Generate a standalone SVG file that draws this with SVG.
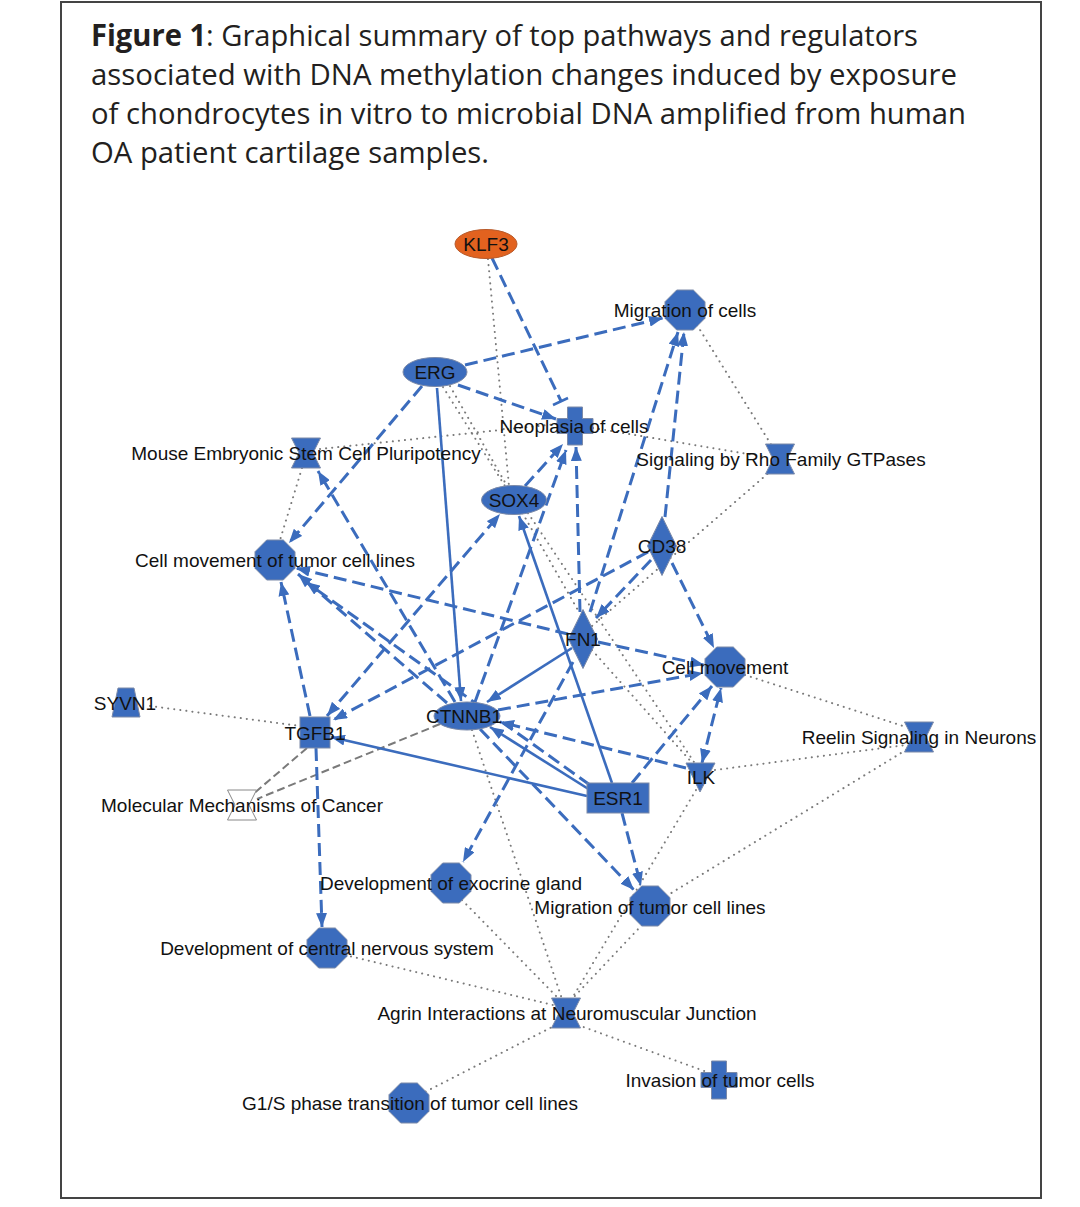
<svg xmlns="http://www.w3.org/2000/svg" xmlns:xlink="http://www.w3.org/1999/xlink" width="1080" height="1207" viewBox="0 0 1080 1207">
<style>
.title{font-family:"Open Sans","Liberation Sans",sans-serif;font-size:30px;fill:#231f20}
.lbl{font-family:"Liberation Sans",Arial,sans-serif;font-size:19px;fill:#111;text-anchor:middle}
.nd{fill:#3b6cbd;stroke:#7c8aa8;stroke-width:1}
.ed{fill:none;stroke:#3b6cbd;stroke-width:3;stroke-dasharray:13,6}
.es{fill:none;stroke:#3b6cbd;stroke-width:2.6}
.eg{fill:none;stroke:#7a7a7a;stroke-width:2;stroke-dasharray:8,4}
.dt{fill:none;stroke:#7a7a7a;stroke-width:2;stroke-dasharray:0.1,6;stroke-linecap:round}
</style>
<defs>
<marker id="arr" viewBox="0 0 14 11" refX="14" refY="5.5" markerWidth="14" markerHeight="11" markerUnits="userSpaceOnUse" orient="auto-start-reverse">
<path d="M0,0 L14,5.5 L0,11 Z" fill="#3b6cbd"/>
</marker>
<polygon id="oct" points="-8.3,-20 8.3,-20 20,-8.3 20,8.3 8.3,20 -8.3,20 -20,8.3 -20,-8.3"/>
<polygon id="hg" points="-14.5,-15 14.5,-15 7,0 14.5,15 -14.5,15 -7,0"/>
<path id="cross" d="M-7.5,-19 H7.5 V-7.5 H18 V7.5 H7.5 V19 H-7.5 V7.5 H-18 V-7.5 H-7.5 Z"/>
<polygon id="dia" points="0,-29.5 14.5,0 0,29.5 -14.5,0"/>
</defs>
<rect x="61" y="2" width="980" height="1196" fill="#fff" stroke="#444" stroke-width="2"/>
<g id="title">
<text class="title" x="91" y="46" textLength="827" lengthAdjust="spacingAndGlyphs"><tspan font-weight="bold">Figure 1</tspan>: Graphical summary of top pathways and regulators</text>
<text class="title" x="91" y="85" textLength="866" lengthAdjust="spacingAndGlyphs">associated with DNA methylation changes induced by exposure</text>
<text class="title" x="91" y="124" textLength="875" lengthAdjust="spacingAndGlyphs">of chondrocytes in vitro to microbial DNA amplified from human</text>
<text class="title" x="91" y="163" textLength="398" lengthAdjust="spacingAndGlyphs">OA patient cartilage samples.</text>
</g>
<g id="connectors">
<!-- dotted -->
<line class="dt" x1="488" y1="259" x2="509" y2="486"/>
<line class="dt" x1="443" y1="387" x2="505" y2="486"/>
<line class="dt" x1="450" y1="386" x2="579" y2="612"/>
<line class="dt" x1="320" y1="449" x2="557" y2="424"/>
<line class="dt" x1="302" y1="468" x2="280" y2="540"/>
<line class="dt" x1="593" y1="428" x2="766" y2="457"/>
<line class="dt" x1="697" y1="325" x2="772" y2="446"/>
<line class="dt" x1="772" y1="470" x2="592" y2="626"/>
<line class="dt" x1="528" y1="513" x2="696" y2="765"/>
<line class="dt" x1="592" y1="650" x2="694" y2="765"/>
<line class="dt" x1="745" y1="675" x2="906" y2="727"/>
<line class="dt" x1="715" y1="770" x2="906" y2="745"/>
<line class="dt" x1="906" y1="750" x2="668" y2="895"/>
<line class="dt" x1="696" y1="790" x2="571" y2="1000"/>
<line class="dt" x1="642" y1="925" x2="572" y2="999"/>
<line class="dt" x1="472" y1="730" x2="562" y2="999"/>
<line class="dt" x1="462" y1="900" x2="559" y2="999"/>
<line class="dt" x1="345" y1="955" x2="553" y2="1005"/>
<line class="dt" x1="556" y1="1025" x2="425" y2="1092"/>
<line class="dt" x1="578" y1="1025" x2="707" y2="1072"/>
<line class="dt" x1="150" y1="706" x2="300" y2="726"/>
<!-- gray dashed -->
<line class="eg" x1="307" y1="748" x2="252" y2="795"/>
<line class="eg" x1="440" y1="724" x2="257" y2="799"/>
<!-- blue solid -->
<line class="es" x1="437" y1="388" x2="461" y2="701" marker-end="url(#arr)"/>
<line class="es" x1="572" y1="648" x2="487" y2="702" marker-end="url(#arr)"/>
<line class="es" x1="590" y1="790" x2="490" y2="727" marker-end="url(#arr)"/>
<line class="es" x1="587" y1="796" x2="331" y2="737" marker-end="url(#arr)"/>
<line class="es" x1="612" y1="783" x2="519" y2="516" marker-end="url(#arr)"/>
<!-- blue dashed -->
<line class="ed" x1="465" y1="365" x2="663" y2="318" marker-end="url(#arr)"/>
<line class="ed" x1="458" y1="385" x2="556" y2="419" marker-end="url(#arr)"/>
<line class="ed" x1="492" y1="258" x2="561" y2="401"/>
<line x1="553" y1="405" x2="568" y2="398" stroke="#3b6cbd" stroke-width="2.5"/>
<line class="ed" x1="422" y1="386" x2="289" y2="543" marker-end="url(#arr)"/>
<line class="ed" x1="525" y1="486" x2="563" y2="444" marker-end="url(#arr)"/>
<line class="ed" x1="475" y1="702" x2="566" y2="450" marker-end="url(#arr)"/>
<line class="ed" x1="580" y1="612" x2="576" y2="447" marker-end="url(#arr)"/>
<line class="ed" x1="590" y1="612" x2="678" y2="332" marker-end="url(#arr)"/>
<line class="ed" x1="665" y1="517" x2="684" y2="332" marker-end="url(#arr)"/>
<line class="ed" x1="672" y1="563" x2="714" y2="648" marker-end="url(#arr)"/>
<line class="ed" x1="651" y1="560" x2="596" y2="618" marker-end="url(#arr)"/>
<line class="ed" x1="648" y1="552" x2="333" y2="720" marker-end="url(#arr)"/>
<line class="ed" x1="598" y1="642" x2="704" y2="665" marker-end="url(#arr)"/>
<line class="ed" x1="568" y1="634" x2="296" y2="568" marker-end="url(#arr)"/>
<line class="ed" x1="573" y1="662" x2="463" y2="862" marker-end="url(#arr)"/>
<line class="ed" x1="447" y1="703" x2="298" y2="574" marker-end="url(#arr)"/>
<line class="ed" x1="590" y1="785" x2="306" y2="582" marker-end="url(#arr)"/>
<line class="ed" x1="310" y1="716" x2="281" y2="582" marker-end="url(#arr)"/>
<line class="ed" x1="316" y1="748" x2="322" y2="927" marker-end="url(#arr)"/>
<line class="ed" x1="327" y1="716" x2="500" y2="514" marker-start="url(#arr)" marker-end="url(#arr)"/>
<line class="ed" x1="480" y1="729" x2="634" y2="890" marker-end="url(#arr)"/>
<line class="ed" x1="622" y1="813" x2="641" y2="886" marker-end="url(#arr)"/>
<line class="ed" x1="632" y1="783" x2="712" y2="686" marker-end="url(#arr)"/>
<line class="ed" x1="702" y1="763" x2="721" y2="688" marker-start="url(#arr)" marker-end="url(#arr)"/>
<line class="ed" x1="686" y1="768" x2="500" y2="722" marker-end="url(#arr)"/>
<line class="ed" x1="498" y1="710" x2="703" y2="673" marker-end="url(#arr)"/>
<line class="ed" x1="455" y1="702" x2="318" y2="471" marker-end="url(#arr)"/>
</g>
<g id="KLF3"><ellipse cx="486" cy="244" rx="31" ry="14.5" fill="#e2621f" stroke="#b85a2a" stroke-width="1"/><text class="lbl" x="486" y="251">KLF3</text></g>
<g id="MigrationOfCells"><use href="#oct" x="685" y="310" class="nd"/><text class="lbl" x="685" y="317">Migration of cells</text></g>
<g id="ERG"><ellipse class="nd" cx="435" cy="372" rx="32" ry="14.5"/><text class="lbl" x="435" y="379">ERG</text></g>
<g id="Neoplasia"><use href="#cross" x="575" y="426" class="nd"/><text class="lbl" x="574" y="433">Neoplasia of cells</text></g>
<g id="MouseESC"><use href="#hg" x="306" y="453" class="nd"/><text class="lbl" x="306" y="460">Mouse Embryonic Stem Cell Pluripotency</text></g>
<g id="RhoGTPases"><use href="#hg" x="780" y="459" class="nd"/><text class="lbl" x="781" y="466">Signaling by Rho Family GTPases</text></g>
<g id="SOX4"><ellipse class="nd" cx="514" cy="500" rx="32.5" ry="14.5"/><text class="lbl" x="514" y="507">SOX4</text></g>
<g id="CellMoveTumor"><use href="#oct" x="275" y="560" class="nd"/><text class="lbl" x="275" y="567">Cell movement of tumor cell lines</text></g>
<g id="CD38"><use href="#dia" x="662" y="546" class="nd"/><text class="lbl" x="662" y="553">CD38</text></g>
<g id="FN1"><use href="#dia" x="583" y="639" class="nd"/><text class="lbl" x="583" y="646">FN1</text></g>
<g id="CellMovement"><use href="#oct" x="725" y="667" class="nd"/><text class="lbl" x="725" y="674">Cell movement</text></g>
<g id="SYVN1"><polygon class="nd" points="118,688 134,688 140,717 112,717"/><text class="lbl" x="125" y="710">SYVN1</text></g>
<g id="TGFB1"><rect class="nd" x="300" y="717" width="30" height="31"/><text class="lbl" x="315" y="740">TGFB1</text></g>
<g id="CTNNB1"><ellipse class="nd" cx="467" cy="716" rx="33" ry="14"/><text class="lbl" x="464" y="723">CTNNB1</text></g>
<g id="MolMechCancer"><use href="#hg" x="242" y="805" fill="#fff" stroke="#888" stroke-width="1"/><text class="lbl" x="242" y="812">Molecular Mechanisms of Cancer</text></g>
<g id="ESR1"><rect class="nd" x="587" y="783" width="62" height="30"/><text class="lbl" x="618" y="805">ESR1</text></g>
<g id="ILK"><polygon class="nd" points="686,763 715,763 700,792"/><text class="lbl" x="701" y="784">ILK</text></g>
<g id="Reelin"><use href="#hg" x="919" y="737" class="nd"/><text class="lbl" x="919" y="744">Reelin Signaling in Neurons</text></g>
<g id="DevExocrine"><use href="#oct" x="451" y="883" class="nd"/><text class="lbl" x="451" y="890">Development of exocrine gland</text></g>
<g id="MigTumor"><use href="#oct" x="650" y="906" class="nd"/><text class="lbl" x="650" y="914">Migration of tumor cell lines</text></g>
<g id="DevCNS"><use href="#oct" x="327" y="948" class="nd"/><text class="lbl" x="327" y="955">Development of central nervous system</text></g>
<g id="Agrin"><use href="#hg" x="566" y="1013" class="nd"/><text class="lbl" x="567" y="1020">Agrin Interactions at Neuromuscular Junction</text></g>
<g id="Invasion"><use href="#cross" x="719" y="1080" class="nd"/><text class="lbl" x="720" y="1087">Invasion of tumor cells</text></g>
<g id="G1S"><use href="#oct" x="409" y="1103" class="nd"/><text class="lbl" x="410" y="1110">G1/S phase transition of tumor cell lines</text></g>
</svg>
